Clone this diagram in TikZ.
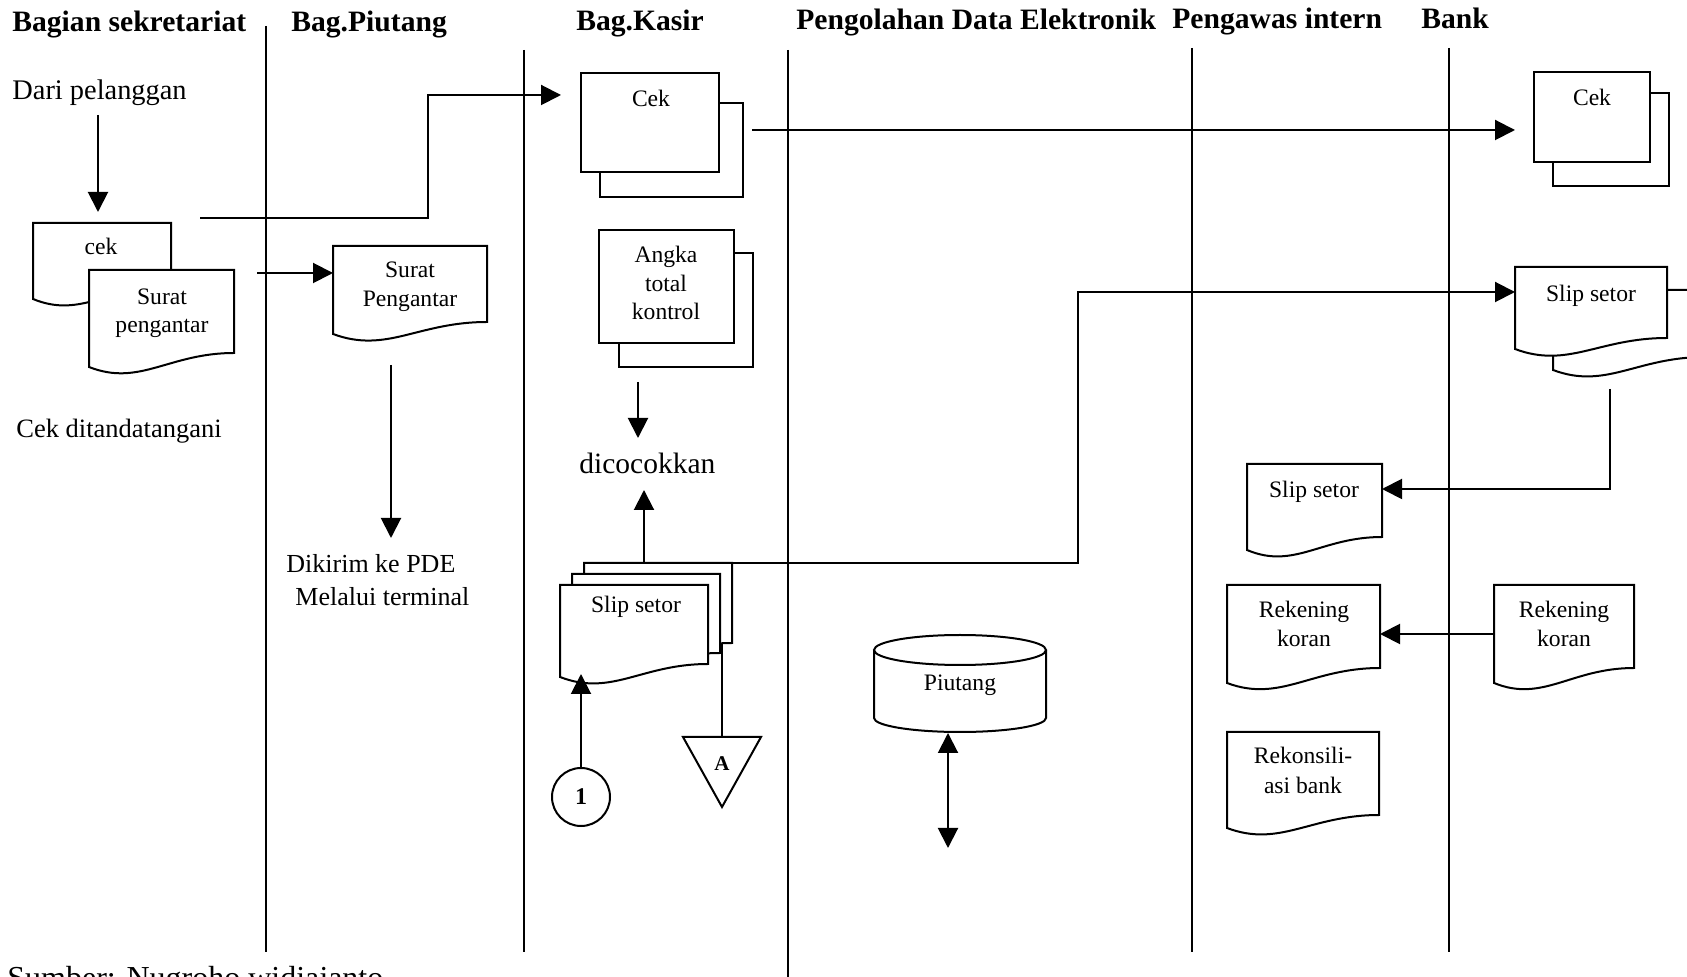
\documentclass[tikz,border=0pt]{standalone}
\usepackage{fontspec}
\setmainfont{Liberation Serif}
\usetikzlibrary{arrows.meta}

\tikzset{
  lane/.style={line width=1pt},
  thinlane/.style={line width=0.6pt},
  shapeline/.style={line width=1pt, fill=white},
  rectbox/.style={draw, fill=white, line width=1pt, inner sep=0pt, outer sep=0pt, anchor=north west},
  conn/.style={line width=1pt},
  arr/.style={conn, -{Triangle[length=10pt,width=10pt]}},
  darr/.style={conn, {Triangle[length=10pt,width=10pt]}-{Triangle[length=10pt,width=10pt]}},
  head/.style={anchor=base west, inner sep=0pt, font=\fontsize{14.8}{17}\selectfont\bfseries},
  note/.style={anchor=base west, inner sep=0pt, font=\fontsize{14.2}{17}\selectfont},
  lbl/.style={anchor=base, inner sep=0pt, font=\fontsize{11.8}{14}\selectfont},
}

% document symbol: name, left x, top y, right x, right-bottom y, left-bottom y
\newcommand\flowdoc[6]{%
  \draw[shapeline] (#2,#3) -- (#4,#3) -- (#4,#5)
    .. controls ({#2+0.55*(#4-#2)},#5) and ({#2+0.35*(#4-#2)},{#6+20}) .. (#2,#6) -- cycle;
  \coordinate (#1) at ({(#2+#4)/2},#3);
}

\begin{document}
\begin{tikzpicture}[x=0.5pt,y=-0.5pt]
\useasboundingbox (0,0) rectangle (1687,977);

% ---------- swimlane dividers ----------
\draw[lane] (266,26) -- (266,952);
\draw[lane] (524,50) -- (524,952);
\draw[lane] (788,50) -- (788,980);
\draw[lane] (1192,48) -- (1192,952);
\draw[thinlane] (1449,48) -- (1449,952);

% ---------- lane headings ----------
\node[head] (h1) at (12,32) {Bagian sekretariat};
\node[head] (h2) at (291,32) {Bag.Piutang};
\node[head] (h3) at (576,31) {Bag.Kasir};
\node[head] (h4) at (796,30) {Pengolahan Data Elektronik};
\node[head] (h5) at (1172,29) {Pengawas intern};
\node[head] (h6) at (1421,29) {Bank};

% ---------- Bagian sekretariat ----------
\node[note] (dari) at (12,100) {Dari pelanggan};
\flowdoc{cekS}{33}{223}{171}{286}{299}
\flowdoc{spS}{89}{270}{234}{353}{367}
\node[lbl] (cekSt) at (101,255) {cek};
\node[lbl] (spSt1) at (162,305) {Surat};
\node[lbl] (spSt2) at (162,333) {pengantar};
\node[note, font=\fontsize{13.25}{16}\selectfont] (ttd) at (16,438) {Cek ditandatangani};

% ---------- Bag. Piutang ----------
\flowdoc{spP}{333}{246}{487}{322}{334}
\node[lbl] (spPt1) at (410,278) {Surat};
\node[lbl] (spPt2) at (410,307) {Pengantar};
\node[note, font=\fontsize{13}{16}\selectfont] (kirim1) at (286,573) {Dikirim ke PDE};
\node[note, font=\fontsize{13}{16}\selectfont] (kirim2) at (295,606) {Melalui terminal};

% ---------- Bag. Kasir ----------
\node[rectbox, minimum width=71.5pt, minimum height=47pt] (cekKb) at (600,103) {};
\node[rectbox, minimum width=69pt, minimum height=49.5pt] (cekK) at (581,73) {};
\node[lbl] (cekKt) at (651,107) {Cek};

\node[rectbox, minimum width=67pt, minimum height=57pt] (akb) at (619,253) {};
\node[rectbox, minimum width=67.5pt, minimum height=56.5pt] (ak) at (599,230) {};
\node[lbl] (akt1) at (666,263) {Angka};
\node[lbl] (akt2) at (666,292) {total};
\node[lbl] (akt3) at (666,320) {kontrol};

\node[note, font=\fontsize{14.75}{17}\selectfont] (cocok) at (579,474) {dicocokkan};

\flowdoc{slK3}{584}{563}{732}{643}{656}
\flowdoc{slK2}{572}{574}{720}{653}{666}
\flowdoc{slK1}{560}{585}{708}{664}{677}
\node[lbl] (slKt) at (636,613) {Slip setor};

\node[circle, draw, line width=1pt, minimum size=29pt, inner sep=0pt,
      font=\fontsize{12}{14}\selectfont\bfseries] (on1) at (581,797) {1};
\draw[shapeline] (683,737) coordinate (offA) -- (761,737) -- (722,807) -- cycle;
\coordinate (offAtop) at (722,737);
\node[font=\fontsize{10.5}{12}\selectfont\bfseries, inner sep=0pt] (offAt) at (722,764) {A};

% ---------- Pengolahan Data Elektronik ----------
\draw[shapeline] (874,650) -- (874,718)
  arc[start angle=180, end angle=360, x radius=43pt, y radius=7pt] -- (1046,650);
\draw[shapeline] (960,650) ellipse[x radius=43pt, y radius=7.5pt];
\coordinate (piuB) at (948,733);
\node[lbl] (piut) at (960,691) {Piutang};

% ---------- Pengawas intern ----------
\flowdoc{slP}{1247}{464}{1382}{537}{550}
\node[lbl] (slPt) at (1314,498) {Slip setor};
\flowdoc{rkP}{1227}{585}{1380}{668}{683}
\node[lbl] (rkPt1) at (1304,618) {Rekening};
\node[lbl] (rkPt2) at (1304,647) {koran};
\flowdoc{rkn}{1227}{732}{1379}{815}{828}
\node[lbl] (rknt1) at (1303,764) {Rekonsili-};
\node[lbl] (rknt2) at (1303,794) {asi bank};

% ---------- Bank ----------
\node[rectbox, minimum width=58pt, minimum height=46.5pt] (cekBb) at (1553,93) {};
\node[rectbox, minimum width=58pt, minimum height=45pt] (cekB) at (1534,72) {};
\node[lbl] (cekBt) at (1592,106) {Cek};
\flowdoc{slB2}{1553}{290}{1705}{357}{370}
\flowdoc{slB1}{1515}{267}{1667}{338}{349}
\node[lbl] (slBt) at (1591,302) {Slip setor};
\flowdoc{rkB}{1494}{585}{1634}{668}{683}
\node[lbl] (rkBt1) at (1564,618) {Rekening};
\node[lbl] (rkBt2) at (1564,647) {koran};

% ---------- connector end points ----------
\coordinate (dariA) at (98,115);
\coordinate (dariB) at (98,212);
\coordinate (cekOut) at (200,218);
\coordinate (cekBend) at (428,95);
\coordinate (cekIn) at (561,95);
\coordinate (spOut) at (257,273);
\coordinate (spIn) at (333,273);
\coordinate (spDown) at (391,365);
\coordinate (kirimIn) at (391,538);
\coordinate (kasirOut) at (752,130);
\coordinate (bankIn) at (1515,130);
\coordinate (akOut) at (638,382);
\coordinate (cocokIn1) at (638,438);
\coordinate (slOutTop) at (644,563);
\coordinate (cocokIn2) at (644,490);
\coordinate (slOutR) at (732,563);
\coordinate (slBend) at (1078,292);
\coordinate (slBin) at (1515,292);
\coordinate (slBot) at (722,643);
\coordinate (slIn1) at (581,674);
\coordinate (piuEnd) at (948,848);
\coordinate (slBout) at (1610,389);
\coordinate (slPin) at (1382,489);
\coordinate (rkBout) at (1494,634);
\coordinate (rkPin) at (1380,634);

% ---------- connectors ----------
\draw[arr] (dariA) -- (dariB);
\draw[arr] (cekOut) -| (cekBend) -- (cekIn);
\draw[arr] (spOut) -- (spIn);
\draw[arr] (spDown) -- (kirimIn);
\draw[arr] (kasirOut) -- (bankIn);
\draw[arr] (akOut) -- (cocokIn1);
\draw[arr] (slOutTop) -- (cocokIn2);
\draw[arr] (slOutR) -| (slBend) -- (slBin);
\draw[conn] (slBot) -- (offAtop);
\draw[arr] (on1.north) -- (slIn1);
\draw[darr] (piuB) -- (piuEnd);
\draw[arr] (slBout) |- (slPin);
\draw[arr] (rkBout) -- (rkPin);

% ---------- source line ----------
\node[note, font=\fontsize{16}{19}\selectfont] (sumber) at (7,988) {Sumber: Nugroho widiajanto};
\end{tikzpicture}
\end{document}
